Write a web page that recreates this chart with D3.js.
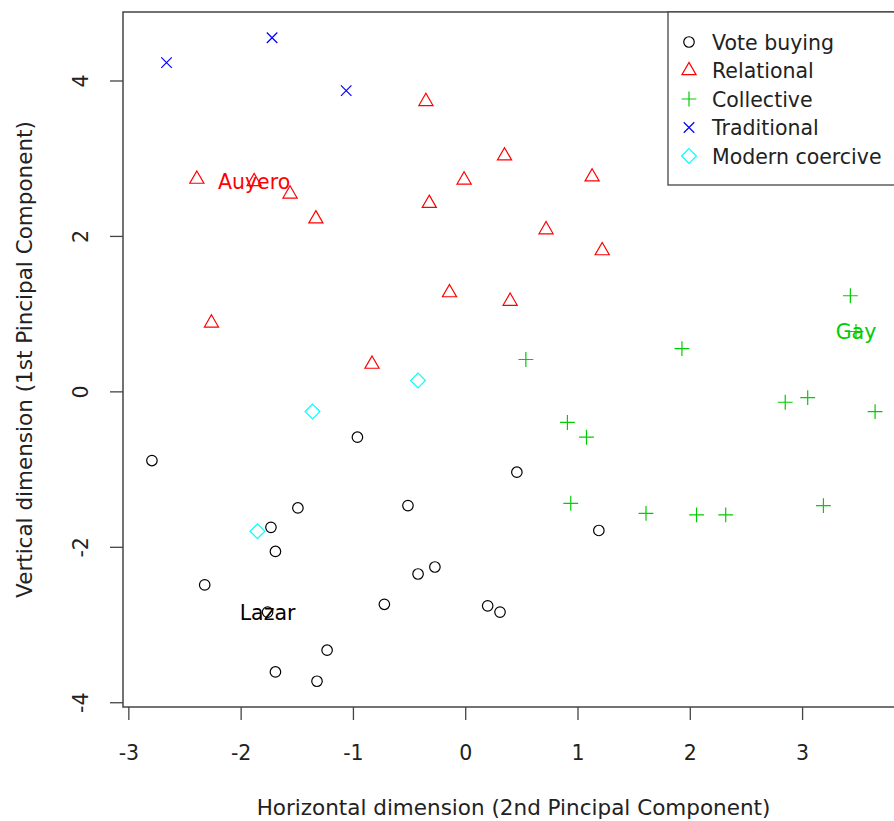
<!DOCTYPE html>
<html lang="en">
<head>
  <meta charset="UTF-8" />
  <title>Clientelism types</title>
  <script src="https://d3js.org/d3.v7.min.js"></script>
  <style>
    body { margin: 0; background: #fff; }
    svg { font-family: "DejaVu Sans", sans-serif; }
  </style>
</head>
<body>
  <svg width="894" height="821"></svg>

  <script>
  // point coordinates: [horizontal, vertical]
  const voteBuying = [
    [-2.79, -0.89], [-0.96, -0.59], [0.46, -1.04], [-0.51, -1.47], [-1.49, -1.50],
    [-1.73, -1.75], [1.19, -1.79], [-2.32, -2.49], [-1.69, -2.06], [-0.42, -2.35],
    [-0.27, -2.26], [-0.72, -2.74], [0.20, -2.76], [0.31, -2.84], [-1.23, -3.33],
    [-1.69, -3.61], [-1.32, -3.73], [-1.76, -2.84]
  ];
  const relational = [
    [-2.39, 2.73], [-1.88, 2.70], [-1.56, 2.54], [-1.33, 2.22], [-2.26, 0.88],
    [-0.83, 0.35], [-0.35, 3.73], [-0.32, 2.42], [-0.14, 1.27], [-0.01, 2.72],
    [0.35, 3.03], [0.40, 1.16], [0.72, 2.08], [1.13, 2.76], [1.22, 1.81]
  ];
  const collective = [
    [0.54, 0.41], [1.93, 0.55], [3.43, 1.23], [3.48, 0.77], [2.85, -0.14],
    [3.05, -0.08], [3.65, -0.26], [0.91, -0.40], [1.08, -0.59], [0.94, -1.44],
    [1.61, -1.57], [2.06, -1.59], [2.32, -1.59], [3.19, -1.47]
  ];
  const traditional = [[-2.66, 4.23], [-1.72, 4.55], [-1.06, 3.87]];
  const modernCoercive = [[-0.42, 0.14], [-1.36, -0.26], [-1.85, -1.80]];

  const groupNames = ["Vote buying", "Relational", "Collective", "Traditional", "Modern coercive"];
  const groupColors = ["#000000", "#FF0000", "#00CD00", "#0000FF", "#00FFFF"];
  const groupShapes = ["circle", "triangle", "plus", "cross", "diamond"];
  const groupPoints = [voteBuying, relational, collective, traditional, modernCoercive];

  // author labels: [text, horizontal, vertical, group index]
  const authorLabels = [["Auyero", -1.88, 2.70, 1], ["Gay", 3.48, 0.77, 2], ["Lazar", -1.76, -2.84, 0]];

  const xTicks = [-3, -2, -1, 0, 1, 2, 3];
  const yTicks = [-4, -2, 0, 2, 4];
  const xTitle = "Horizontal dimension (2nd Pincipal Component)";
  const yTitle = "Vertical dimension (1st Pincipal Component)";

  const svg = d3.select("svg");
  const plotLeft = 123, plotRight = 904, plotTop = 12, plotBottom = 707;
  const fontSize = 20.5;
  const lineColor = "#444";
  const textColor = "#222";

  // R style axis limits: data range widened by 4% each side
  const allPts = groupPoints.flat();
  function padded(vals) {
    const [lo, hi] = d3.extent(vals);
    const p = (hi - lo) * 0.04;
    return [lo - p, hi + p];
  }
  const x = d3.scaleLinear().domain(padded(allPts.map(d => d[0]))).range([plotLeft, plotRight]);
  const y = d3.scaleLinear().domain(padded(allPts.map(d => d[1]))).range([plotBottom, plotTop]);

  svg.append("rect").attr("width", 894).attr("height", 821).attr("fill", "#fff");

  // symbol outlines the way R draws pch 1..5
  const u = 5.25;
  function symbolPath(shape, cx, cy) {
    const p = d3.path();
    if (shape === "triangle") {
      const r = 1.555 * u, xc = 1.3468 * u, yc = 0.7776 * u;
      p.moveTo(cx, cy - r); p.lineTo(cx + xc, cy + yc); p.lineTo(cx - xc, cy + yc); p.closePath();
    } else if (shape === "plus") {
      const a = Math.SQRT2 * u;
      p.moveTo(cx - a, cy); p.lineTo(cx + a, cy); p.moveTo(cx, cy - a); p.lineTo(cx, cy + a);
    } else if (shape === "cross") {
      p.moveTo(cx - u, cy - u); p.lineTo(cx + u, cy + u); p.moveTo(cx - u, cy + u); p.lineTo(cx + u, cy - u);
    } else if (shape === "diamond") {
      const a = Math.SQRT2 * u;
      p.moveTo(cx, cy - a); p.lineTo(cx + a, cy); p.lineTo(cx, cy + a); p.lineTo(cx - a, cy); p.closePath();
    } else {
      p.moveTo(cx + u, cy);
      p.arc(cx, cy, u, 0, 2 * Math.PI);
    }
    return p.toString();
  }

  const plot = svg.append("g");
  groupPoints.forEach((pts, i) => {
    plot.append("g")
      .attr("fill", "none")
      .attr("stroke", groupColors[i])
      .attr("stroke-width", 1.2)
      .selectAll("path")
      .data(pts)
      .enter().append("path")
      .attr("d", d => symbolPath(groupShapes[i], x(d[0]), y(d[1])));
  });

  svg.append("g")
    .style("font-size", fontSize + "px")
    .selectAll("text")
    .data(authorLabels)
    .enter().append("text")
    .attr("x", d => x(d[1]))
    .attr("y", d => y(d[2]) + 7.5)
    .attr("text-anchor", "middle")
    .attr("fill", d => groupColors[d[3]])
    .text(d => d[0]);

  // box
  svg.append("rect")
    .attr("x", plotLeft).attr("y", plotTop)
    .attr("width", plotRight - plotLeft).attr("height", plotBottom - plotTop)
    .attr("fill", "none").attr("stroke", lineColor).attr("stroke-width", 1.5);

  // axes, hyphen minus like R
  const fmt = d => String(d);
  const xAxis = svg.append("g")
    .attr("transform", `translate(0,${plotBottom})`)
    .call(d3.axisBottom(x).tickValues(xTicks).tickSize(13).tickFormat(fmt));
  xAxis.select(".domain").remove();
  xAxis.selectAll("line").attr("stroke", lineColor).attr("stroke-width", 1.3);
  xAxis.selectAll("text")
    .attr("y", 53).attr("dy", null)
    .attr("fill", textColor)
    .style("font-size", fontSize + "px")
    .style("font-family", "DejaVu Sans");

  const yAxis = svg.append("g")
    .attr("transform", `translate(${plotLeft},0)`)
    .call(d3.axisLeft(y).tickValues(yTicks).tickSize(13).tickFormat(fmt));
  yAxis.select(".domain").remove();
  yAxis.selectAll("line").attr("stroke", lineColor).attr("stroke-width", 1.3);
  yAxis.selectAll("text")
    .attr("x", null).attr("dy", null)
    .attr("transform", "translate(-35,0) rotate(-90)")
    .attr("text-anchor", "middle")
    .attr("fill", textColor)
    .style("font-size", fontSize + "px")
    .style("font-family", "DejaVu Sans");

  svg.append("text")
    .attr("x", (plotLeft + plotRight) / 2).attr("y", 815)
    .attr("text-anchor", "middle")
    .attr("fill", textColor)
    .style("font-size", "21.5px")
    .text(xTitle);

  svg.append("text")
    .attr("transform", `translate(32,${(plotTop + plotBottom) / 2}) rotate(-90)`)
    .attr("text-anchor", "middle")
    .attr("fill", textColor)
    .style("font-size", "21.5px")
    .text(yTitle);

  // legend, top right
  const legend = svg.append("g");
  legend.append("rect")
    .attr("x", 668).attr("y", plotTop)
    .attr("width", plotRight - 668).attr("height", 173)
    .attr("fill", "#fff").attr("stroke", lineColor).attr("stroke-width", 1.3);
  groupNames.forEach((name, i) => {
    const ly = 42 + i * 28.5;
    legend.append("path")
      .attr("d", symbolPath(groupShapes[i], 689, ly))
      .attr("fill", "none")
      .attr("stroke", groupColors[i])
      .attr("stroke-width", 1.2);
    legend.append("text")
      .attr("x", 712).attr("y", ly + 7.5)
      .attr("fill", textColor)
      .style("font-size", fontSize + "px")
      .text(name);
  });
  </script>
</body>
</html>
